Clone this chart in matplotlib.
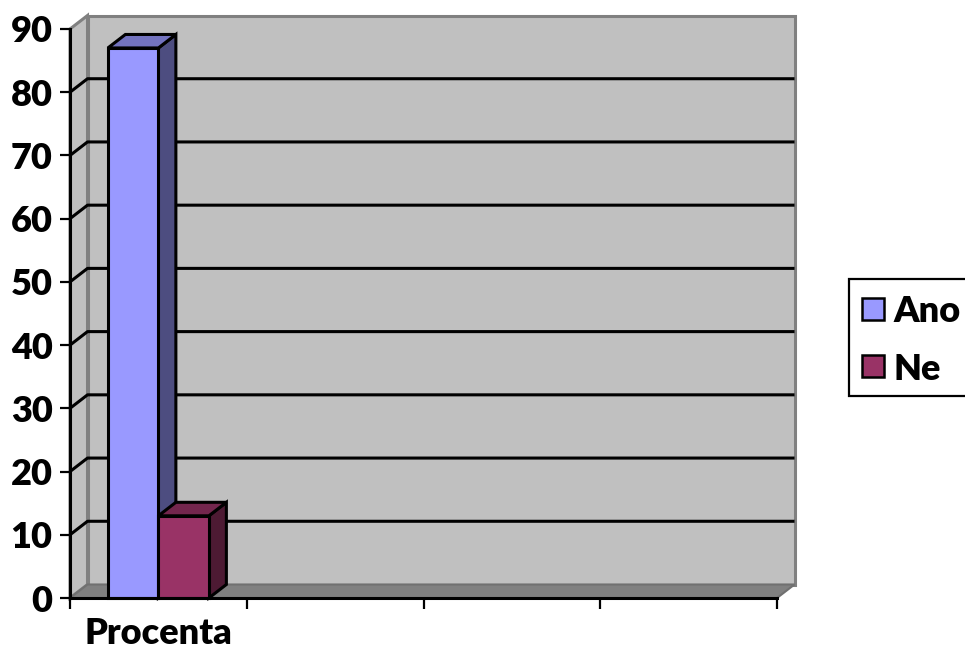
import matplotlib
matplotlib.use("Agg")
import matplotlib.pyplot as plt
from matplotlib.patches import Polygon, Rectangle

plt.rcParams['font.family'] = ['Lato', 'DejaVu Sans']
plt.rcParams['font.weight'] = 'heavy'

# data
categories = ["Procenta"]
series_names = ["Ano", "Ne"]
values = [87, 13]
front_colors = ["#9999FF", "#993366"]
top_colors = ["#7373BF", "#73264D"]
side_colors = ["#4D4D80", "#4D1A33"]
y_ticks = list(range(0, 100, 10))
n_slots = 4

W_PX, H_PX = 965, 661
fig = plt.figure(figsize=(W_PX / 100, H_PX / 100), dpi=100)
fig.patch.set_facecolor("white")

# front plane of the 3-D plot box, in pixels
left_px, right_px, bottom_px, top_px = 70, 777, 598, 29
ax = fig.add_axes([left_px / W_PX, 1 - bottom_px / H_PX,
                   (right_px - left_px) / W_PX, (bottom_px - top_px) / H_PX])
ax.set_xlim(0, n_slots)
ax.set_ylim(0, 90)
ax.patch.set_visible(False)

# depth offset of the back wall (pixels -> data units)
dx = 17.5 * n_slots / (right_px - left_px)
dy = 13.5 * 90 / (bottom_px - top_px)
ymax = 90
xmax = n_slots

wall_face = "#C0C0C0"
wall_edge = "#808080"

# back wall
ax.add_patch(Polygon([(dx, dy), (xmax + dx, dy), (xmax + dx, ymax + dy), (dx, ymax + dy)],
                     closed=True, facecolor=wall_face, edgecolor=wall_edge, lw=2.2,
                     clip_on=False, zorder=1))
# side wall
ax.add_patch(Polygon([(0, 0), (dx, dy), (dx, ymax + dy), (0, ymax)],
                     closed=True, facecolor=wall_face, edgecolor=wall_edge, lw=2.2,
                     clip_on=False, zorder=1))
# floor
ax.add_patch(Polygon([(0, 0), (xmax, 0), (xmax + dx, dy), (dx, dy)],
                     closed=True, facecolor="#808080", edgecolor="#707070", lw=1.5,
                     clip_on=False, zorder=1.5))

# gridlines across the side wall and back wall
for v in y_ticks[1:-1]:
    ax.plot([0, dx, xmax + dx], [v, v + dy, v + dy], color="black", lw=2.2,
            clip_on=False, zorder=2, solid_capstyle="butt")

# 3-D columns
bar_w = 1 / 3.5
x_start = 0.5 - bar_w
for i, (v, fc, tc, sc) in enumerate(zip(values, front_colors, top_colors, side_colors)):
    x0 = x_start + i * bar_w
    x1 = x0 + bar_w
    kw = dict(closed=True, edgecolor="black", lw=2.2, clip_on=False, zorder=3 + i,
              joinstyle="miter")
    ax.add_patch(Polygon([(x1, 0), (x1 + dx, dy), (x1 + dx, v + dy), (x1, v)], facecolor=sc, **kw))
    ax.add_patch(Polygon([(x0, v), (x1, v), (x1 + dx, v + dy), (x0 + dx, v + dy)], facecolor=tc, **kw))
    ax.add_patch(Polygon([(x0, 0), (x1, 0), (x1, v), (x0, v)], facecolor=fc, **kw))

# axes
for s in ("top", "right"):
    ax.spines[s].set_visible(False)
for s in ("left", "bottom"):
    ax.spines[s].set_linewidth(2.2)
    ax.spines[s].set_color("black")
    ax.spines[s].set_zorder(6)

ax.set_yticks(y_ticks)
ax.set_yticklabels([str(t) for t in y_ticks])
ax.tick_params(axis="y", direction="out", length=7.5, width=1.6, pad=5,
               labelsize=26, colors="black")
ax.set_xticks(range(n_slots + 1))
ax.set_xticklabels([""] * (n_slots + 1))
ax.tick_params(axis="x", which="major", direction="out", length=8, width=1.6)
ax.set_xticks([i + 0.5 for i in range(len(categories))], minor=True)
ax.set_xticklabels(categories, minor=True)
ax.tick_params(axis="x", which="minor", length=0, pad=14, labelsize=26)
for lbl in ax.get_yticklabels() + ax.get_xticklabels(minor=True):
    lbl.set_fontweight("heavy")

# legend box (runs past the right edge of the figure)
def fx(px):
    return px / W_PX

def fy(py):
    return 1 - py / H_PX

fig.add_artist(Rectangle((fx(849), fy(396)), fx(140), fy(279) - fy(396),
                         transform=fig.transFigure, facecolor="white",
                         edgecolor="black", lw=1.6, clip_on=False))
entry_y = [309, 366]
sq = 22
for name, fc, yc in zip(series_names, front_colors, entry_y):
    fig.add_artist(Rectangle((fx(862), fy(yc + sq / 2)), fx(sq), fy(yc - sq / 2) - fy(yc + sq / 2),
                             transform=fig.transFigure, facecolor=fc,
                             edgecolor="black", lw=1.8))
    fig.text(fx(893), fy(yc), name, fontsize=26, fontweight="heavy",
             va="center_baseline", ha="left", color="black")

fig.savefig("out.png", dpi=100, facecolor="white")
